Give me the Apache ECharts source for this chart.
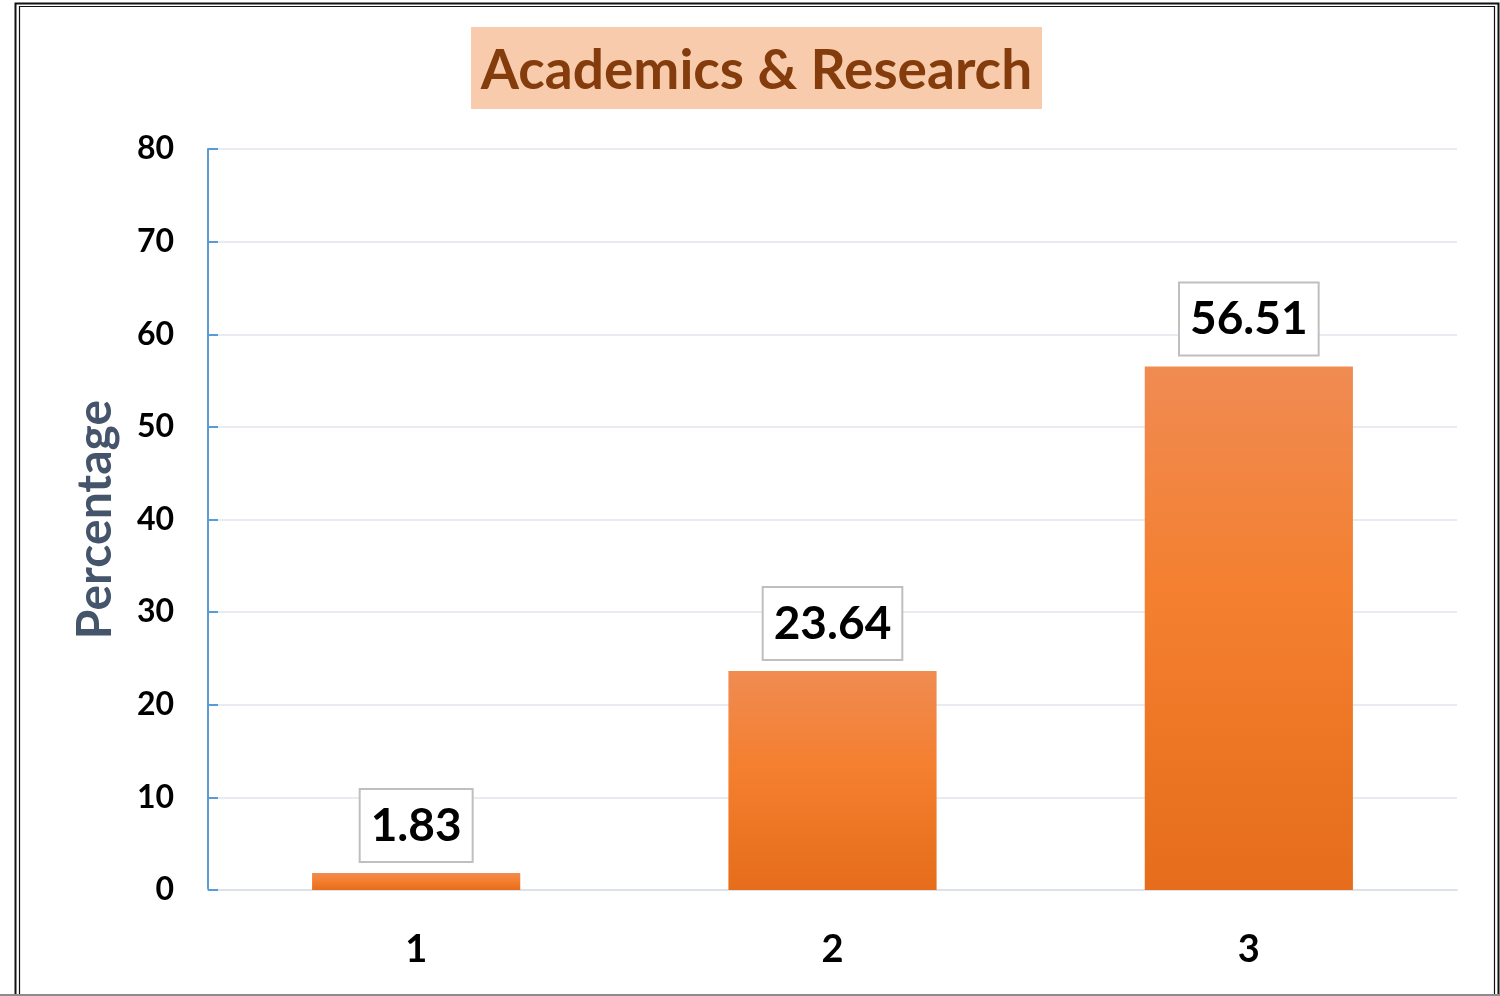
<!DOCTYPE html>
<html>
<head>
<meta charset="utf-8">
<title>Academics &amp; Research</title>
<script src="https://cdn.jsdelivr.net/npm/echarts@6/dist/echarts.min.js"></script>
<style>
  html, body { margin: 0; padding: 0; background: #fff; }
  #chart { width: 1500px; height: 996px; }
</style>
</head>
<body>
<div id="chart"></div>
<script>
// Chart data
const titleText = 'Academics & Research';
const categories = ['1', '2', '3'];
const values = [1.83, 23.64, 56.51];
const yAxisName = 'Percentage';
const yMin = 0;
const yMax = 80;
const yStep = 10;

const FONT = 'Lato, "Open Sans", sans-serif';

// Title box: fixed width, text centred inside it
const titleFontSize = 55;
const titleBoxLeft = 471, titleBoxWidth = 571, titleBoxTop = 27, titleBoxHeight = 82;
const ctx = document.createElement('canvas').getContext('2d');
ctx.font = 'bold ' + titleFontSize + 'px ' + FONT;
const titleW = ctx.measureText(titleText).width;
const padH = Math.max(0, (titleBoxWidth - titleW) / 2);
const padTop = (titleBoxHeight - titleFontSize) / 2 + 3;
const padBottom = titleBoxHeight - titleFontSize - padTop;

const chart = echarts.init(document.getElementById('chart'), null, { renderer: 'canvas' });

chart.setOption({
  backgroundColor: '#ffffff',
  animation: false,
  title: {
    text: titleText,
    left: titleBoxLeft,
    top: titleBoxTop,
    padding: [padTop, padH, padBottom, padH],
    backgroundColor: '#F8CBAD',
    textStyle: {
      fontFamily: FONT,
      fontWeight: 'bold',
      fontSize: titleFontSize,
      lineHeight: titleFontSize,
      color: '#843C0C'
    }
  },
  grid: { left: 208, right: 43, top: 149, bottom: 106, containLabel: false },
  xAxis: {
    type: 'category',
    data: categories,
    axisLine: { show: true, lineStyle: { color: '#DCE1EA', width: 2 } },
    axisTick: { show: false },
    axisLabel: {
      margin: 41,
      fontFamily: FONT,
      fontWeight: 'bold',
      fontSize: 38,
      color: '#000'
    }
  },
  yAxis: {
    type: 'value',
    min: yMin,
    max: yMax,
    interval: yStep,
    name: yAxisName,
    nameLocation: 'middle',
    nameGap: 88,
    nameTextStyle: {
      fontFamily: FONT,
      fontWeight: 'bold',
      fontSize: 48,
      color: '#44546A'
    },
    axisLine: { show: true, lineStyle: { color: '#5B9BD5', width: 2 } },
    axisTick: { show: true, inside: true, length: 10, lineStyle: { color: '#5B9BD5', width: 2 } },
    axisLabel: {
      margin: 34,
      fontFamily: FONT,
      fontWeight: 'bold',
      fontSize: 32,
      color: '#000'
    },
    splitLine: { show: true, lineStyle: { color: '#E1E5EC', width: 1.5 } }
  },
  series: [{
    type: 'bar',
    data: values,
    barWidth: '50%',
    itemStyle: {
      color: new echarts.graphic.LinearGradient(0, 0, 0, 1, [
        { offset: 0, color: '#F08B52' },
        { offset: 0.45, color: '#F47F2E' },
        { offset: 1, color: '#E56D1B' }
      ])
    },
    label: {
      show: true,
      position: 'top',
      distance: 12,
      formatter: (p) => p.value.toFixed(2),
      fontFamily: FONT,
      fontWeight: 'bold',
      fontSize: 46,
      lineHeight: 48,
      color: '#000',
      backgroundColor: '#ffffff',
      borderColor: '#BFBFBF',
      borderWidth: 2,
      padding: [12, 10, 11, 10]
    }
  }],
  graphic: [
    // double outer frame
    { type: 'rect', silent: true, z: 100,
      shape: { x: 15.5, y: 3.5, width: 1483, height: 1100 },
      style: { fill: 'none', stroke: '#111', lineWidth: 2 } },
    { type: 'rect', silent: true, z: 100,
      shape: { x: 19.5, y: 6.5, width: 1475, height: 1100 },
      style: { fill: 'none', stroke: '#111', lineWidth: 1.2 } },
    { type: 'line', silent: true, z: 100,
      shape: { x1: 0, y1: 995, x2: 1500, y2: 995 },
      style: { stroke: '#8C8C8C', lineWidth: 2 } }
  ]
});
</script>
</body>
</html>
